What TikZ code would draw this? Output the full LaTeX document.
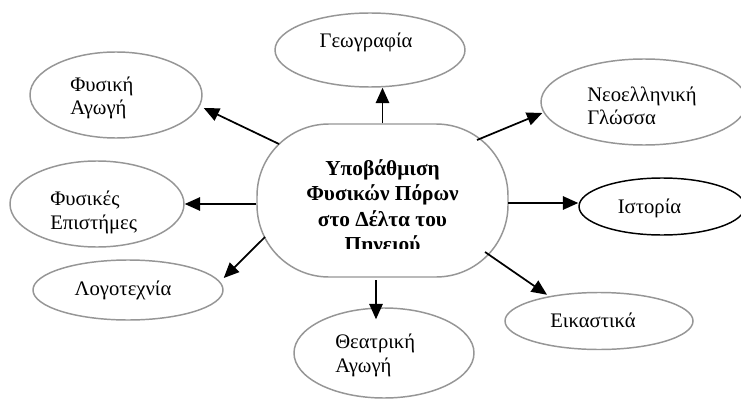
\documentclass[tikz,border=0pt]{standalone}
\usepackage{fontspec}
\setmainfont{Liberation Serif}
\usetikzlibrary{arrows.meta,calc,shapes.geometric}
\definecolor{ringgray}{RGB}{150,150,150}
\begin{document}
\begin{tikzpicture}[x=0.75pt,y=-0.75pt,
  ring/.style={ellipse, draw=ringgray, line width=1.1pt, inner sep=0pt},
  lbl/.style={font=\fontsize{15.5}{17.5}\selectfont, inner sep=0pt, align=left},
  arr/.style={-{Triangle[length=11.5pt,width=10pt]}, line width=1.3pt, black},
  hub/.style={draw=ringgray, line width=1.1pt, rounded corners=54pt, inner sep=0pt},
  hubtext/.style={font=\fontsize{16}{19}\selectfont\bfseries, align=center, inner sep=0pt}
]
\fill[white] (0,0) rectangle (741,399);
\useasboundingbox (0,0) rectangle (741,399);

% central node
\node[hub, minimum width=188.25pt, minimum height=114.75pt] (c) at (382.5,200.5) {};
\begin{scope}
  \clip (257,124) rectangle (508,248);
  % base anchor = baseline of the last line
  \node[hubtext, anchor=base] (ct) at (382.5,251.5) {Υποβάθμιση\\Φυσικών Πόρων\\στο Δέλτα του\\Πηνειού};
\end{scope}

% surrounding ellipses
\node[ring, minimum width=142.5pt, minimum height=55.5pt] (geo) at (370,50) {};
\node[ring, minimum width=129pt, minimum height=64.5pt] (fa) at (116,95) {};
\node[ring, minimum width=154.5pt, minimum height=64.5pt] (neo) at (644,102) {};
\node[ring, minimum width=130.5pt, minimum height=64.5pt] (fe) at (97,204) {};
\node[ring, minimum width=142.5pt, minimum height=45pt] (log) at (128,290) {};
\node[ring, draw=black, minimum width=124.5pt, minimum height=42.75pt] (ist) at (662,206.5) {};
\node[ring, minimum width=141pt, minimum height=42.75pt] (eik) at (599,321) {};
\node[ring, minimum width=135pt, minimum height=67.5pt] (thea) at (384,353) {};

% labels (multi-line: base anchor sits on the last line)
\node[lbl, anchor=base] (geo-t) at (366,48) {Γεωγραφία};
\node[lbl, anchor=base west] (fa-t) at (70,115) {Φυσική\\Αγωγή};
\node[lbl, anchor=base west] (neo-t) at (587,125) {Νεοελληνική\\Γλώσσα};
\node[lbl, anchor=base west] (fe-t) at (50,229) {Φυσικές\\Επιστήμες};
\node[lbl, anchor=base] (log-t) at (123,295) {Λογοτεχνία};
\node[lbl, anchor=base] (ist-t) at (649.5,213) {Ιστορία};
\node[lbl, anchor=base] (eik-t) at (593,327) {Εικαστικά};
\node[lbl, anchor=base west] (thea-t) at (335,372) {Θεατρική\\Αγωγή};

% connector start points on the central shape
\coordinate (cNW) at (279,144);
\coordinate (cNE) at (477,140);
\coordinate (cSW) at (265,237);
\coordinate (cE) at (508,203);
\coordinate (cSE) at (485,252);
\coordinate (cS) at (376,280);

% connectors
\draw[arr] (c.north) -- (c.north |- geo.south);
\draw[arr] (cNW) -- ($(fa.east)+(1,13)$);
\draw[arr] (cNE) -- ($(neo.west)+(2,11)$);
\draw[arr] (c.west |- fe.east) -- (fe.east);
\draw[arr] (cSW) -- ($(log.east)+(0,-12)$);
\draw[arr] (cE) -- (cE -| ist.west);
\draw[arr] (cSE) -- ($(eik.north)+(-52,3)$);
\draw[arr] (cS) -- ($(cS |- thea.north)+(0,12)$);
\end{tikzpicture}
\end{document}
